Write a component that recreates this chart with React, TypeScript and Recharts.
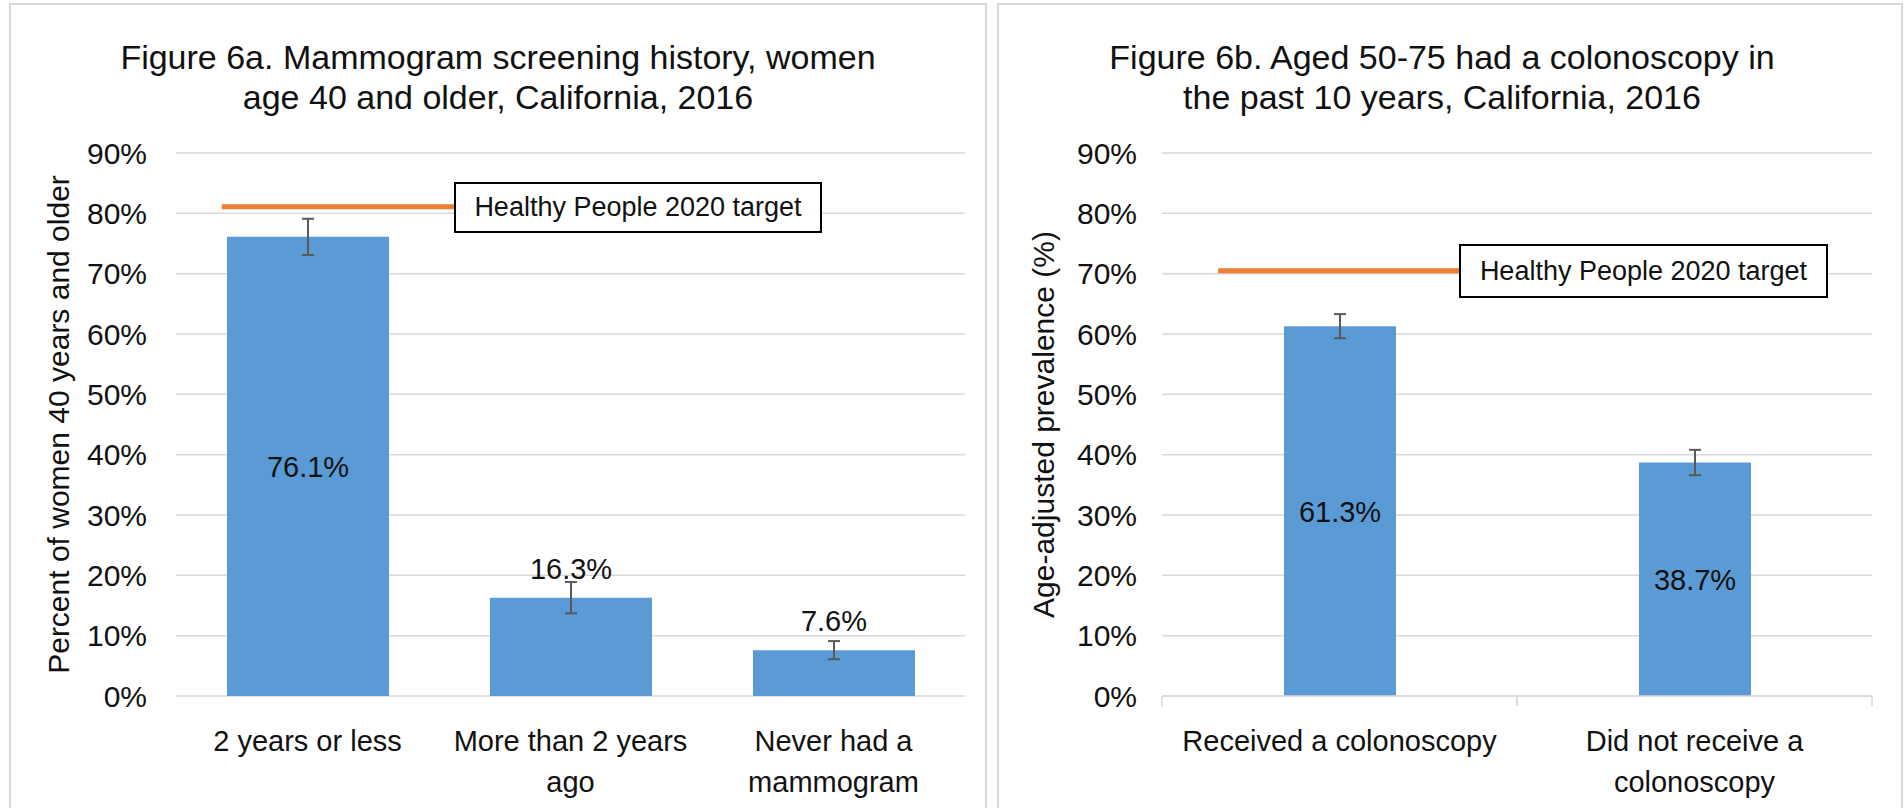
import React from 'react';
import {
  BarChart,
  Bar,
  XAxis,
  YAxis,
  CartesianGrid,
  ErrorBar,
  LabelList,
  ReferenceLine,
} from 'recharts';

const FONT = "'Liberation Sans', Arial, sans-serif";
const BLUE = '#5B9BD5';
const ORANGE = '#ED7D31';
const GRID = '#D9D9D9';
const INK = '#111111';
const CAT_SIZE = 29;

// Figure 6a - mammogram screening history
const mammoCategories = ['2 years or less', 'More than 2 years ago', 'Never had a mammogram'];
const mammoValues = [76.1, 16.3, 7.6];
const mammoErrors = [3.0, 2.6, 1.5];
const mammoTarget = 81.1;

// Figure 6b - colonoscopy in past 10 years
const colonCategories = ['Received a colonoscopy', 'Did not receive a colonoscopy'];
const colonValues = [61.3, 38.7];
const colonErrors = [2.0, 2.1];
const colonTarget = 70.5;

const yTicks = [0, 10, 20, 30, 40, 50, 60, 70, 80, 90];
const targetText = 'Healthy People 2020 target';

type Row = { name: string; value: number; err: number };

const buildRows = (cats: string[], vals: number[], errs: number[]): Row[] =>
  cats.map((name, i) => ({ name, value: vals[i], err: errs[i] }));

let ctx: CanvasRenderingContext2D | null = null;
function textWidth(s: string, size: number) {
  if (!ctx) ctx = document.createElement('canvas').getContext('2d');
  if (!ctx) return s.length * size * 0.5;
  ctx.font = `${size}px ${FONT}`;
  return ctx.measureText(s).width;
}

// simple word wrap, like the spreadsheet does under each bar
function wrapText(s: string, maxWidth: number, size: number) {
  const lines: string[] = [];
  let cur = '';
  for (const w of s.split(' ')) {
    const trial = cur ? `${cur} ${w}` : w;
    if (cur && textWidth(trial, size) > maxWidth) {
      lines.push(cur);
      cur = w;
    } else {
      cur = trial;
    }
  }
  lines.push(cur);
  return lines;
}

const CategoryTick = (props: any) => {
  const { x, y, payload, wrapWidth, edgeTicks, gap } = props;
  const lines = wrapText(String(payload.value), wrapWidth, CAT_SIZE);
  const axisY = y - gap;
  return (
    <g>
      {edgeTicks &&
        [-1, 1].map((s) => (
          <line
            key={s}
            x1={x + (s * wrapWidth) / 2}
            x2={x + (s * wrapWidth) / 2}
            y1={axisY}
            y2={axisY + 10}
            stroke={GRID}
            strokeWidth={1.5}
          />
        ))}
      <text x={x} y={y} textAnchor="middle" style={{ fontFamily: FONT, fontSize: CAT_SIZE }} fill={INK}>
        {lines.map((l, i) => (
          <tspan key={i} x={x} dy={i === 0 ? '0.72em' : 41}>
            {l}
          </tspan>
        ))}
      </text>
    </g>
  );
};

const makeBarLabel = (inside: number[]) => (props: any) => {
  const vb = props.viewBox ?? props;
  const x = Number(vb.x ?? props.x);
  const y = Number(vb.y ?? props.y);
  const w = Number(vb.width ?? props.width);
  const h = Number(vb.height ?? props.height);
  const cx = x + w / 2;
  const isInside = inside.includes(props.index);
  return (
    <text
      x={cx}
      y={isInside ? y + h / 2 : y - 19}
      dy={isInside ? '0.36em' : 0}
      textAnchor="middle"
      style={{ fontFamily: FONT, fontSize: 29 }}
      fill={INK}
    >
      {`${props.value}%`}
    </text>
  );
};

const yTitle = (text: string, dx: number) => (props: any) => {
  const vb = props.viewBox;
  const cx = vb.x + dx;
  const cy = vb.y + vb.height / 2;
  return (
    <text
      transform={`translate(${cx}, ${cy}) rotate(-90)`}
      textAnchor="middle"
      dy="0.36em"
      style={{ fontFamily: FONT, fontSize: 30 }}
      fill={INK}
    >
      {text}
    </text>
  );
};

// target line drawn across part of the plot width, the rest sits under the label box
const targetShape = (from: number, to: number) => (props: any) => {
  const x1 = Number(props.x1);
  const x2 = Number(props.x2);
  const y = Number(props.y1);
  return (
    <line
      x1={x1 + from * (x2 - x1)}
      x2={x1 + to * (x2 - x1)}
      y1={y}
      y2={y}
      stroke={ORANGE}
      strokeWidth={5}
    />
  );
};

interface PanelProps {
  rows: Row[];
  target: number;
  targetSpan: [number, number];
  yLabel: string;
  yLabelDx: number;
  inside: number[];
  width: number;
  yAxisWidth: number;
  tickGap: number;
  rightMargin: number;
  barSize: number;
  band: number;
  edgeTicks: boolean;
}

function ScreeningPanel(p: PanelProps) {
  return (
    <BarChart
      width={p.width}
      height={808}
      data={p.rows}
      margin={{ top: 153, right: p.rightMargin, bottom: 0, left: 0 }}
    >
      <CartesianGrid vertical={false} stroke={GRID} strokeWidth={1.5} />
      <XAxis
        dataKey="name"
        height={112}
        axisLine={p.edgeTicks ? { stroke: GRID, strokeWidth: 1.5 } : false}
        tickLine={false}
        tickSize={0}
        tickMargin={34}
        interval={0}
        tick={<CategoryTick wrapWidth={p.band} edgeTicks={p.edgeTicks} gap={34} />}
      />
      <YAxis
        width={p.yAxisWidth}
        domain={[0, 90]}
        ticks={yTicks}
        axisLine={false}
        tickLine={false}
        tickSize={0}
        tickMargin={p.tickGap}
        tickFormatter={(v: number) => `${v}%`}
        tick={{ fill: INK, fontSize: 30, fontFamily: FONT }}
        label={{ content: yTitle(p.yLabel, p.yLabelDx) }}
      />
      <Bar dataKey="value" fill={BLUE} barSize={p.barSize} isAnimationActive={false}>
        <ErrorBar
          dataKey="err"
          direction="y"
          width={6}
          stroke="#595959"
          strokeWidth={2}
          isAnimationActive={false}
        />
        <LabelList dataKey="value" content={makeBarLabel(p.inside)} />
      </Bar>
      <ReferenceLine y={p.target} shape={targetShape(p.targetSpan[0], p.targetSpan[1])} />
    </BarChart>
  );
}

const boxStyle: React.CSSProperties = {
  position: 'absolute',
  boxSizing: 'border-box',
  border: '2px solid #000',
  background: '#fff',
  fontFamily: FONT,
  fontSize: 27,
  color: INK,
  display: 'flex',
  alignItems: 'center',
  justifyContent: 'center',
};

const titleStyle: React.CSSProperties = {
  position: 'absolute',
  fontFamily: FONT,
  fontSize: 34,
  lineHeight: '40px',
  textAlign: 'center',
  color: INK,
};

export default function App() {
  const mammoRows = buildRows(mammoCategories, mammoValues, mammoErrors);
  const colonRows = buildRows(colonCategories, colonValues, colonErrors);

  return (
    <div
      style={{
        position: 'absolute',
        left: 0,
        top: 0,
        width: 1904,
        height: 808,
        overflow: 'hidden',
        background: '#fff',
      }}
    >
      <div
        style={{
          position: 'absolute',
          left: 9,
          top: 3,
          width: 978,
          height: 840,
          border: `2px solid ${GRID}`,
          boxSizing: 'border-box',
        }}
      />
      <div
        style={{
          position: 'absolute',
          left: 997,
          top: 3,
          width: 906,
          height: 840,
          border: `2px solid ${GRID}`,
          boxSizing: 'border-box',
        }}
      />

      <div style={{ ...titleStyle, left: 10, top: 37, width: 976 }}>
        Figure 6a. Mammogram screening history, women
        <br />
        age 40 and older, California, 2016
      </div>
      <div style={{ ...titleStyle, left: 992, top: 37, width: 900 }}>
        Figure 6b. Aged 50-75 had a colonoscopy in
        <br />
        the past 10 years, California, 2016
      </div>

      <div style={{ position: 'absolute', left: 10, top: 0 }}>
        <ScreeningPanel
          rows={mammoRows}
          target={mammoTarget}
          targetSpan={[0.058, 0.4]}
          yLabel="Percent of women 40 years and older"
          yLabelDx={48}
          inside={[0]}
          width={976}
          yAxisWidth={166}
          tickGap={29}
          rightMargin={21}
          barSize={162}
          band={263}
          edgeTicks={false}
        />
      </div>
      <div style={{ position: 'absolute', left: 998, top: 0 }}>
        <ScreeningPanel
          rows={colonRows}
          target={colonTarget}
          targetSpan={[0.079, 0.5]}
          yLabel="Age-adjusted prevalence (%)"
          yLabelDx={45}
          inside={[0, 1]}
          width={906}
          yAxisWidth={164}
          tickGap={25}
          rightMargin={32}
          barSize={112}
          band={355}
          edgeTicks={true}
        />
      </div>

      <div style={{ ...boxStyle, left: 454, top: 182, width: 368, height: 51 }}>{targetText}</div>
      <div style={{ ...boxStyle, left: 1459, top: 244, width: 369, height: 54 }}>{targetText}</div>
    </div>
  );
}
